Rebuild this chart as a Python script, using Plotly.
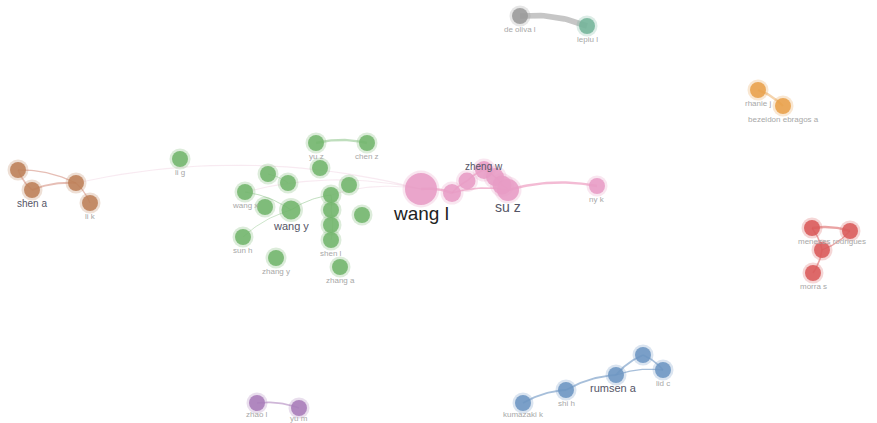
import numpy as np
import plotly.graph_objects as go

# Co-authorship network: node layout, size (weight) and cluster
names = ["de oliva l", "lepiu l",
         "rhanie j", "bezeidon ebragos a",
         "moreno l", "menezes rodrigues", "silva p", "morra s",
         "shen a", "chen h", "li x", "li k",
         "li g", "yu z", "chen z", "liu h", "li t", "zhao y", "wang x", "wu j",
         "wang y", "li j", "xu l", "zhang h", "liu y", "zhou q", "shen l",
         "sun h", "zhang y", "zhang a",
         "wang l", "zhang x", "hu j", "zheng w", "liu j", "chen y", "su z", "ny k",
         "kumazaki k", "shi h", "rumsen a", "ueda t", "lid c",
         "zhao l", "yu m"]
node_x = [520, 587,
          758, 783,
          812, 850, 822, 813,
          32, 18, 76, 90,
          180, 316, 367, 320, 268, 288, 245, 265,
          291, 331, 349, 331, 362, 331, 331,
          243, 276, 340,
          421, 452, 467, 484, 495, 502, 508, 597,
          523, 566, 616, 643, 663,
          257, 299]
node_y = [16, 26,
          90, 106,
          228, 231, 250, 273,
          190, 170, 183, 203,
          159, 143, 143, 168, 174, 183, 192, 207,
          210, 195, 185, 210, 215, 225, 240,
          237, 258, 267,
          189, 193, 181, 170, 177, 185, 190, 186,
          403, 390, 375, 355, 370,
          403, 408]
node_size = [16, 16,
             16, 16,
             16, 16, 16, 16,
             16, 16, 16, 16,
             16, 16, 16, 16, 16, 16, 16, 16,
             19, 16, 16, 16, 16, 16, 16,
             16, 16, 16,
             32, 18, 17, 18, 18, 19, 22, 16,
             16, 16, 16, 16, 16,
             16, 16]
cluster = ["gray", "teal",
           "orange", "orange",
           "red", "red", "red", "red",
           "brown", "brown", "brown", "brown",
           "green", "green", "green", "green", "green", "green", "green", "green",
           "green", "green", "green", "green", "green", "green", "green",
           "green", "green", "green",
           "pink", "pink", "pink", "pink", "pink", "pink", "pink", "pink",
           "blue", "blue", "blue", "blue", "blue",
           "purple", "purple"]

# Which labels are shown and how prominent they are
label_size = {"wang l": 19, "su z": 14, "wang y": 11, "rumsen a": 11,
              "zheng w": 10, "shen a": 10}
hidden = {"chen h", "li x", "liu h", "wu j", "li j", "xu l", "zhang h",
          "liu y", "zhou q", "zhang x", "hu j", "liu j", "chen y", "ueda t",
          "silva p", "li t", "zhao y", "moreno l"}
label_dx = {"menezes rodrigues": -18, "rumsen a": -3}
label_dy = {"zheng w": -4, "menezes rodrigues": 10, "wang l": 24, "su z": 17,
            "wang y": 16, "yu m": 10, "zhao l": 11, "kumazaki k": 11}

edges = [(0, 1), (2, 3), (4, 5), (4, 6), (6, 7), (5, 6),
         (8, 9), (8, 10), (9, 10), (10, 11),
         (13, 14), (18, 20), (20, 21), (21, 23), (23, 26), (16, 17),
         (27, 20), (21, 30),
         (30, 31), (31, 32), (32, 33), (33, 34), (34, 35), (35, 36), (31, 36), (36, 37),
         (38, 39), (39, 40), (40, 41), (41, 42), (40, 42),
         (43, 44), (10, 30), (18, 30)]
edge_weight = [3.5, 1.5, 1.5, 1.0, 1.0, 0.8,
               1.0, 1.2, 0.8, 0.8,
               1.5, 0.6, 0.6, 0.6, 0.5, 0.5,
               0.5, 0.7,
               1.5, 1.0, 1.0, 1.0, 1.0, 1.0, 1.0, 1.5,
               1.2, 1.2, 1.2, 1.0, 0.8,
               1.0, 0.7, 0.7]

palette = {"gray": "#9a9a9a", "teal": "#74b49a", "orange": "#e8a04a",
           "red": "#d95a5a", "brown": "#bd7f58", "green": "#72b56c",
           "pink": "#e79cc5", "blue": "#6c95c2", "purple": "#a77bb8"}
edge_palette = {"gray": "rgba(160,160,160,0.6)", "teal": "rgba(160,160,160,0.6)",
                "orange": "rgba(232,160,74,0.45)", "red": "rgba(217,90,90,0.55)",
                "brown": "rgba(200,110,90,0.45)", "green": "rgba(114,181,108,0.45)",
                "pink": "rgba(231,120,170,0.5)", "blue": "rgba(108,149,194,0.6)",
                "purple": "rgba(167,123,184,0.55)"}
group = {"gray": "g", "teal": "g"}

fig = go.Figure()

# Edges: slight arcs between node centres
for (a, b), w in zip(edges, edge_weight):
    x0, y0, x1, y1 = node_x[a], node_y[a], node_x[b], node_y[b]
    mx, my = (x0 + x1) / 2, (y0 + y1) / 2
    dx, dy = x1 - x0, y1 - y0
    bend = 0.12
    cx, cy = mx + dy * bend, my - dx * bend
    t = np.linspace(0, 1, 24)
    bx = (1 - t) ** 2 * x0 + 2 * (1 - t) * t * cx + t ** 2 * x1
    by = (1 - t) ** 2 * y0 + 2 * (1 - t) * t * cy + t ** 2 * y1
    ca, cb = cluster[a], cluster[b]
    cross = group.get(ca, ca) != group.get(cb, cb)
    col = "rgba(225,160,190,0.22)" if cross else edge_palette[ca]
    fig.add_trace(go.Scatter(x=bx, y=by, mode="lines",
                             line=dict(color=col, width=w * 1.6),
                             hoverinfo="skip", showlegend=False))

# Nodes with a soft halo
fig.add_trace(go.Scatter(
    x=node_x, y=node_y, mode="markers",
    marker=dict(size=[s + 5 for s in node_size],
                color=[palette[c] for c in cluster], opacity=0.25,
                line=dict(width=0)),
    hoverinfo="skip", showlegend=False))
fig.add_trace(go.Scatter(
    x=node_x, y=node_y, mode="markers",
    marker=dict(size=node_size, color=[palette[c] for c in cluster],
                opacity=0.88, line=dict(width=0)),
    text=names, hoverinfo="text", showlegend=False))

# Labels
for n, x, y, s in zip(names, node_x, node_y, node_size):
    if n in hidden:
        continue
    fs = label_size.get(n, 8)
    dy = label_dy.get(n, s / 2 + 5)
    dx = label_dx.get(n, 0)
    col = "#222222" if fs >= 19 else ("#555566" if fs >= 10 else "#a8a8a8")
    fig.add_annotation(x=x + dx, y=y + dy, text=n, showarrow=False,
                       font=dict(family="Arial, Liberation Sans", size=fs, color=col))

fig.update_layout(
    width=877, height=423, margin=dict(l=0, r=0, t=0, b=0),
    paper_bgcolor="white", plot_bgcolor="white",
    xaxis=dict(range=[0, 877], visible=False),
    yaxis=dict(range=[423, 0], visible=False),
)
fig.write_html("out.html")
